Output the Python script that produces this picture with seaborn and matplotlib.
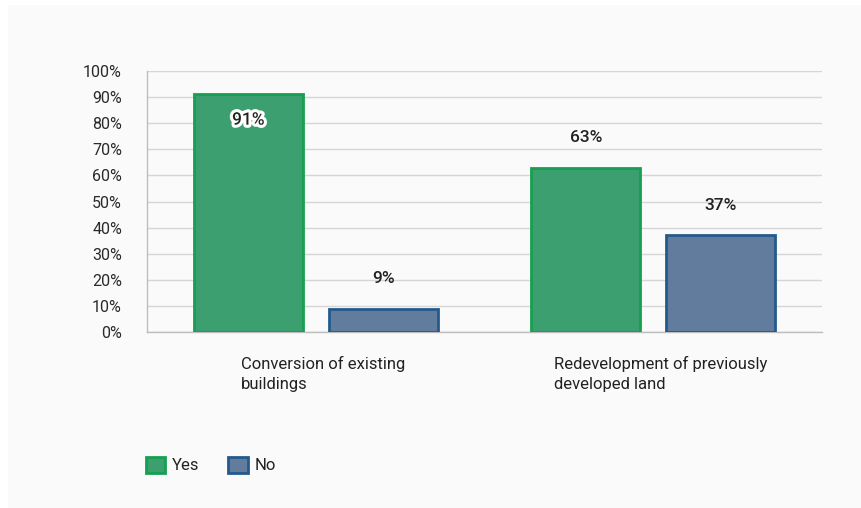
import matplotlib
matplotlib.use("Agg")
import matplotlib.pyplot as plt
import matplotlib.patheffects as pe
import matplotlib.transforms as mtransforms
from matplotlib.patches import Patch, Rectangle
import seaborn as sns
import pandas as pd

# Survey responses (percent)
categories = ["Conversion of existing\nbuildings", "Redevelopment of previously\ndeveloped land"]
answers = ["Yes", "No"]
yes_values = [91, 63]
no_values = [9, 37]
y_ticks = list(range(0, 101, 10))

fill_colors = {"Yes": "#3b9f6f", "No": "#627c9e"}
edge_colors = {"Yes": "#16a04f", "No": "#245a8b"}

df = pd.DataFrame({
    "category": categories * 2,
    "answer": ["Yes"] * len(categories) + ["No"] * len(categories),
    "value": yes_values + no_values,
})

sns.set_theme(style="white")
plt.rcParams["font.family"] = ["Roboto", "DejaVu Sans"]

fig = plt.figure(figsize=(8.62, 5.08), dpi=100, facecolor="white")
fig.patches.append(Rectangle((8 / 862, 0), 1, 1 - 5 / 508, transform=fig.transFigure,
                             facecolor="#fafafa", edgecolor="none", zorder=-10))
ax = fig.add_axes([147 / 862, 1 - 332 / 508, (822 - 147) / 862, (332 - 71) / 508])
ax.set_facecolor("none")

sns.barplot(data=df, x="category", y="value", hue="answer", hue_order=answers,
            palette=fill_colors, width=0.8, gap=0.19, ax=ax, legend=False,
            linewidth=2.0, saturation=1, zorder=3)

for container, answer in zip(ax.containers, answers):
    for bar in container:
        bar.set_edgecolor(edge_colors[answer])
        bar.set_linewidth(2.0)
        val = bar.get_height()
        cx = bar.get_x() + bar.get_width() / 2
        if val > 85:
            t = ax.annotate(f"{val:.0f}%", (cx, val), xytext=(0, -18.5), textcoords="offset points",
                            ha="center", va="center", fontsize=12.5, fontweight="medium",
                            color="#222222", zorder=5)
            t.set_path_effects([pe.withStroke(linewidth=4.5, foreground="white")])
        else:
            ax.annotate(f"{val:.0f}%", (cx, val), xytext=(0, 21.5), textcoords="offset points",
                        ha="center", va="center", fontsize=12.5, fontweight="medium",
                        color="#222222", zorder=5)

ax.set_ylim(0, 100)
ax.set_xlim(-0.5, 1.5)
ax.set_yticks(y_ticks)
ax.set_yticklabels([f"{v}%" for v in y_ticks], fontsize=11.5, color="#2a2a2a")
ax.yaxis.grid(True, color="#d6d6d6", linewidth=1, zorder=0)
ax.set_axisbelow(True)
ax.tick_params(axis="y", length=0, pad=18)
ax.tick_params(axis="x", length=0, pad=17)
label_shift = mtransforms.ScaledTranslation(7 / 100, 0, fig.dpi_scale_trans)
for lbl in ax.get_xticklabels():
    lbl.set_fontsize(12)
    lbl.set_color("#222222")
    lbl.set_multialignment("left")
    lbl.set_linespacing(1.45)
    lbl.set_transform(lbl.get_transform() + label_shift)
ax.set_xlabel("")
ax.set_ylabel("")
for side in ("top", "right"):
    ax.spines[side].set_visible(False)
for side in ("left", "bottom"):
    ax.spines[side].set_color("#bdbdbd")
    ax.spines[side].set_linewidth(1)

handles = [Patch(facecolor=fill_colors[a], edgecolor=edge_colors[a], linewidth=2, label=a)
           for a in answers]
fig.legend(handles=handles, loc="center left", bbox_to_anchor=(131 / 862, 1 - 465 / 508),
           ncol=2, frameon=False, fontsize=12, handlelength=1.15, handleheight=1.15,
           handletextpad=0.4, columnspacing=1.75, labelcolor="#222222")

fig.savefig("out.png", dpi=100, facecolor=fig.get_facecolor())
